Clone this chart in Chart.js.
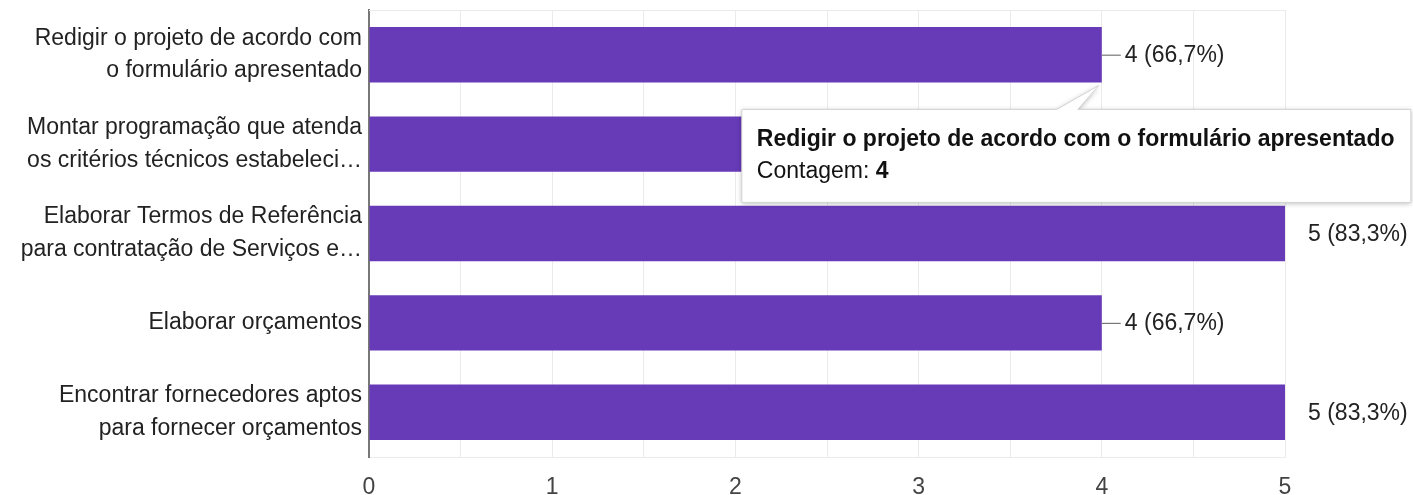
<!DOCTYPE html>
<html>
<head>
<meta charset="utf-8">
<script src="https://cdn.jsdelivr.net/npm/chart.js@4"></script>
<style>
  html, body { margin: 0; padding: 0; background: #ffffff; }
  #wrap { width: 1413px; height: 495px; position: relative; }
</style>
</head>
<body>
<div id="wrap"><canvas id="c"></canvas></div>
<script>
// ---- data ----
const categories = [
  ["Redigir o projeto de acordo com", "o formulário apresentado"],
  ["Montar programação que atenda", "os critérios técnicos estabeleci…"],
  ["Elaborar Termos de Referência", "para contratação de Serviços e…"],
  "Elaborar orçamentos",
  ["Encontrar fornecedores aptos", "para fornecer orçamentos"]
];
const counts = [4, 3, 5, 4, 5];
const totalRespondents = 6;
const xTicks = [0, 1, 2, 3, 4, 5];
const tooltipTitle = "Redigir o projeto de acordo com o formulário apresentado";
const tooltipLabel = "Contagem: ";
const tooltipIndex = 0;

const FONT = '"Liberation Sans", Arial, sans-serif';
const BAR_COLOR = '#673ab7';

function pctLabel(v) {
  return v + ' (' + (v / totalRespondents * 100).toFixed(1).replace('.', ',') + '%)';
}

const valueLabels = {
  id: 'valueLabels',
  afterDatasetsDraw(chart) {
    const ctx = chart.ctx;
    const meta = chart.getDatasetMeta(0);
    const max = Math.max(...counts);
    ctx.save();
    ctx.font = '23px ' + FONT;
    ctx.textBaseline = 'middle';
    ctx.textAlign = 'left';
    meta.data.forEach((bar, i) => {
      const v = counts[i];
      const x = bar.x, y = bar.y;
      if (v < max) {
        ctx.strokeStyle = '#777';
        ctx.lineWidth = 1.2;
        ctx.beginPath();
        ctx.moveTo(x, y + 0.5);
        ctx.lineTo(x + 19, y + 0.5);
        ctx.stroke();
      }
      ctx.fillStyle = '#222';
      ctx.fillText(pctLabel(v), x + 23, y + 1);
    });
    ctx.restore();
  }
};

const frameTop = {
  id: 'frameTop',
  beforeDatasetsDraw(chart) {
    const {ctx, chartArea} = chart;
    ctx.save();
    ctx.strokeStyle = '#ebebeb';
    ctx.lineWidth = 1;
    ctx.beginPath();
    ctx.moveTo(chartArea.left, chartArea.top + 0.5);
    ctx.lineTo(chartArea.right, chartArea.top + 0.5);
    ctx.stroke();
    ctx.restore();
  }
};

const staticTooltip = {
  id: 'staticTooltip',
  afterDraw(chart) {
    const ctx = chart.ctx;
    const bar = chart.getDatasetMeta(0).data[tooltipIndex];
    const tipX = bar.x - 3;
    const tipY = bar.y + bar.height / 2 + 3;
    const left = bar.x - 360;
    const top = tipY + 24;
    const right = Math.min(chart.width - 2, left + 669);
    const bottom = top + 93;
    ctx.save();
    ctx.shadowColor = 'rgba(0,0,0,0.28)';
    ctx.shadowBlur = 5;
    ctx.shadowOffsetX = 0;
    ctx.shadowOffsetY = 1;
    ctx.fillStyle = '#ffffff';
    ctx.beginPath();
    ctx.moveTo(left, top);
    ctx.lineTo(bar.x - 45, top);
    ctx.lineTo(tipX, tipY);
    ctx.lineTo(bar.x - 24, top);
    ctx.lineTo(right, top);
    ctx.lineTo(right, bottom);
    ctx.lineTo(left, bottom);
    ctx.closePath();
    ctx.fill();
    ctx.shadowColor = 'transparent';
    ctx.strokeStyle = '#d4d4d4';
    ctx.lineWidth = 1;
    ctx.stroke();
    ctx.fillStyle = '#111';
    ctx.textBaseline = 'middle';
    ctx.textAlign = 'left';
    ctx.font = 'bold 23px ' + FONT;
    ctx.fillText(tooltipTitle, left + 15, top + 30);
    ctx.font = '23px ' + FONT;
    ctx.fillText(tooltipLabel, left + 15, top + 62);
    const w = ctx.measureText(tooltipLabel).width;
    ctx.font = 'bold 23px ' + FONT;
    ctx.fillText(String(counts[tooltipIndex]), left + 15 + w, top + 62);
    ctx.restore();
  }
};

Chart.defaults.font.family = FONT;
Chart.defaults.font.size = 23;

new Chart(document.getElementById('c'), {
  type: 'bar',
  data: {
    labels: categories,
    datasets: [{
      data: counts,
      backgroundColor: BAR_COLOR,
      borderWidth: 0,
      categoryPercentage: 1,
      barPercentage: 0.62
    }]
  },
  options: {
    indexAxis: 'y',
    responsive: true,
    maintainAspectRatio: false,
    animation: false,
    events: [],
    layout: { padding: { top: 10, right: 128, bottom: 0, left: 0 } },
    plugins: {
      legend: { display: false },
      tooltip: { enabled: false },
      title: { display: false }
    },
    scales: {
      x: {
        type: 'linear',
        min: xTicks[0],
        max: xTicks[xTicks.length - 1],
        afterFit(scale) {
          scale.height = 38;
          scale.paddingLeft = 0;
          scale.paddingRight = 0;
        },
        ticks: {
          stepSize: 0.5,
          autoSkip: false,
          maxRotation: 0,
          padding: 17,
          color: '#444',
          font: { size: 23, lineHeight: 1.2 },
          callback(v) { return xTicks.includes(v) ? String(v) : ''; }
        },
        grid: { color: '#ebebeb', lineWidth: 1, drawTicks: false },
        border: { display: true, color: '#ebebeb', width: 1 }
      },
      y: {
        afterFit(scale) {
          scale.width = 369;
          scale.paddingTop = 0;
          scale.paddingBottom = 0;
        },
        ticks: {
          padding: 7,
          color: '#222',
          autoSkip: false,
          font: { size: 23, lineHeight: 1.43 }
        },
        grid: { display: false, drawTicks: false },
        border: { display: true, color: '#777', width: 2 }
      }
    }
  },
  plugins: [frameTop, valueLabels, staticTooltip]
});
</script>
</body>
</html>
